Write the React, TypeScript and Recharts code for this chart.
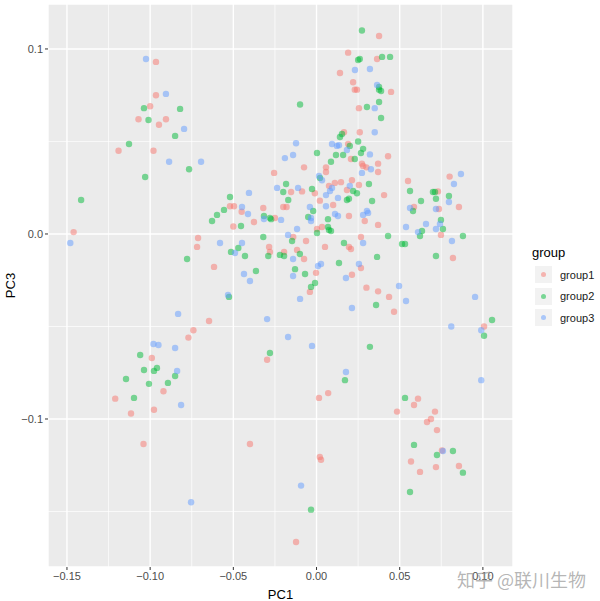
import { CartesianGrid, ReferenceLine, Scatter, ScatterChart, XAxis, YAxis } from "recharts";

// [PC1, PC3]
const group1: [number, number][] = [
  [-0.0965, 0.093], [-0.0965, 0.075], [-0.1, 0.069], [-0.107, 0.062], [-0.0947, 0.059],
  [-0.0905, 0.062], [-0.119, 0.045], [-0.098, 0.045], [-0.0255, 0.033], [-0.146, 0.001],
  [-0.052, 0.015], [-0.0496, 0.015], [-0.045, 0.012], [-0.05, 0.004], [-0.0376, 0.0065],
  [-0.032, 0.014], [-0.025, 0.0086], [-0.02, 0.0146], [-0.018, 0.0146], [-0.0153, 0.0227],
  [-0.0087, 0.023], [-0.001, 0.022], [-0.0075, 0.036], [0.0057, 0.036], [0.0057, 0.0335],
  [0.0075, 0.026], [0.011, 0.0276], [0.0147, 0.028], [0.0213, 0.029], [0.0255, 0.0265],
  [0.0183, 0.0238], [0.0165, 0.055], [0.026, 0.055], [0.019, 0.0486], [0.0207, 0.0405],
  [0.043, 0.042], [0.037, 0.038], [0.0273, 0.038], [0.028, 0.0368], [0.03, 0.036],
  [0.037, 0.0335], [0.0406, 0.021], [0.002, 0.018], [0.01, 0.0157], [0.0195, 0.0097],
  [0.029, 0.007], [0.037, 0.0049], [0.055, 0.0286], [0.0586, 0.0146], [0.0003, 0.0027],
  [0.0033, 0.0038], [-0.0712, -0.0022], [-0.0718, -0.007], [-0.0285, -0.007], [-0.028, -0.0097],
  [-0.0195, -0.0097], [-0.014, -0.0016], [-0.0063, -0.0038], [-0.0117, -0.0086], [-0.0075, -0.0135],
  [-0.0003, -0.021], [-0.0616, -0.0178], [-0.004, -0.0313], [0.0051, -0.007], [0.0195, -0.007],
  [0.0207, -0.0081], [0.0267, -0.0016], [0.0267, -0.0184], [0.0213, -0.022], [0.03, -0.029],
  [0.037, -0.031], [0.0436, -0.034], [0.0466, -0.042], [0.08, 0.031], [0.073, 0.023],
  [0.0736, 0.0135], [0.0856, 0.0146], [0.0748, -0.0005], [0.082, -0.013], [0.0376, 0.107],
  [0.019, 0.098], [0.0364, 0.0946], [0.0141, 0.087], [0.022, 0.082], [0.023, 0.078],
  [0.0243, 0.078], [0.0448, 0.0768], [0.0255, 0.068], [-0.0646, -0.047], [-0.074, -0.052],
  [-0.077, -0.056], [-0.0297, -0.068], [-0.099, -0.067], [-0.092, -0.085], [-0.121, -0.089],
  [-0.0977, -0.095], [-0.1115, -0.097], [-0.104, -0.1135], [-0.04, -0.1135], [0.0015, -0.0886],
  [0.007, -0.086], [0.002, -0.1205], [0.0027, -0.122], [-0.0123, -0.1665], [0.061, -0.089],
  [0.0586, -0.0924], [0.0484, -0.096], [0.0712, -0.096], [0.0688, -0.1], [0.0664, -0.1016],
  [0.0724, -0.106], [0.0568, -0.123], [0.0622, -0.1286], [0.0718, -0.126], [0.0856, -0.1254],
  [0.0754, -0.117], [0.1007, -0.05],
];

const group2: [number, number][] = [
  [-0.1037, 0.068], [-0.101, 0.0616], [-0.082, 0.0676], [-0.085, 0.053], [-0.1127, 0.0486],
  [-0.0766, 0.035], [-0.103, 0.0308], [-0.1415, 0.0184], [-0.052, 0.02], [-0.0556, 0.013],
  [-0.0598, 0.0103], [-0.0628, 0.007], [-0.0454, 0.0043], [-0.0316, 0.0097], [-0.028, 0.0086],
  [-0.0273, 0.008], [-0.0183, 0.027], [-0.02, 0.0227], [-0.017, 0.0184], [-0.0027, 0.0243],
  [-0.002, 0.0124], [-0.005, 0.0092], [0.0021, 0.0303], [0.0087, 0.039], [0.0003, 0.0438],
  [0.0117, 0.0427], [0.016, 0.0427], [0.023, 0.0405], [0.0153, 0.054], [0.0141, 0.0524],
  [0.025, 0.05], [0.02, 0.0476], [0.028, 0.046], [0.0267, 0.0438], [0.0388, 0.0627],
  [0.0315, 0.027], [0.022, 0.0232], [0.0243, 0.022], [0.0195, 0.019], [0.0183, 0.0184],
  [0.0334, 0.0178], [0.0069, 0.008], [0.0003, 0.0005], [0.0069, 0.0038], [0.0075, 0.0022],
  [0.0087, 0.0016], [-0.0514, -0.0097], [-0.047, -0.0076], [-0.043, -0.0119], [-0.032, -0.0016],
  [-0.029, -0.0119], [-0.022, -0.0113], [-0.0195, -0.0119], [-0.0147, -0.0038], [-0.01, -0.0108],
  [-0.0129, -0.019], [-0.0069, -0.0216], [-0.0364, -0.02], [-0.0526, -0.034], [-0.0009, -0.0265],
  [-0.0033, -0.0286], [0.0165, -0.0049], [0.0135, -0.0157], [0.0364, -0.0124], [0.0358, -0.0384],
  [0.0562, 0.0232], [0.0628, 0.0178], [0.058, 0.0124], [0.043, -0.0011], [0.0514, -0.0054],
  [0.0532, -0.0054], [0.07, 0.0227], [0.0712, 0.0227], [0.0796, 0.0205], [0.0718, 0.019],
  [0.0748, 0.0076], [0.076, 0.0027], [0.0634, 0.0016], [0.0622, -0.0011], [0.088, -0.0011],
  [0.0718, -0.0119], [0.0273, 0.11], [0.025, 0.094], [0.026, 0.0946], [0.0394, 0.0957],
  [0.0442, 0.0957], [0.0376, 0.078], [0.0388, 0.0773], [0.0376, 0.0795], [-0.0099, 0.07],
  [0.0376, 0.0713], [0.0303, 0.0686], [-0.0778, -0.0135], [-0.028, -0.0643], [-0.106, -0.0654],
  [-0.1037, -0.0735], [-0.0977, -0.074], [-0.0959, -0.0724], [-0.085, -0.0768], [-0.1145, -0.0784],
  [-0.1007, -0.081], [-0.0893, -0.0805], [-0.1097, -0.0886], [0.0171, -0.079], [-0.0033, -0.149],
  [0.0532, -0.0886], [0.0586, -0.114], [0.082, -0.1173], [0.0724, -0.1195], [0.088, -0.129],
  [0.0562, -0.1395], [0.0321, -0.061], [0.1055, -0.0465], [0.1007, -0.055],
];

const group3: [number, number][] = [
  [-0.1025, 0.0946], [-0.0905, 0.0757], [-0.0796, 0.0568], [-0.0886, 0.039], [-0.0694, 0.039],
  [-0.148, -0.0049], [-0.0406, 0.0222], [-0.0448, 0.0146], [-0.0412, 0.0108], [-0.0316, 0.0081],
  [-0.0237, 0.0249], [-0.0213, 0.0076], [-0.019, 0.041], [-0.0141, 0.0427], [-0.0123, 0.049],
  [-0.0111, 0.0249], [-0.004, 0.0146], [-0.0033, 0.0086], [-0.0033, 0.007], [0.0015, 0.0313],
  [0.0033, 0.029], [0.0093, 0.0486], [0.0123, 0.0476], [0.0135, 0.048], [0.0183, 0.0454],
  [0.0321, 0.043], [0.035, 0.055], [0.0327, 0.035], [0.0273, 0.033], [0.02, 0.026],
  [0.0093, 0.0249], [0.0081, 0.0232], [0.0057, 0.021], [0.0129, 0.0195], [0.0057, 0.015],
  [0.0111, 0.0108], [0.0129, 0.0097], [0.028, 0.0103], [0.0303, 0.0124], [0.031, 0.0114],
  [-0.0117, 0.0027], [-0.0171, -0.0005], [-0.058, -0.0049], [-0.049, -0.0103], [-0.0448, -0.0049],
  [-0.0436, -0.0216], [-0.04, -0.0254], [-0.0532, -0.033], [-0.0141, -0.0135], [-0.0141, -0.0227],
  [0.0009, -0.0173], [0.0027, -0.0162], [-0.0099, -0.0351], [0.028, -0.0049], [0.0255, -0.0162],
  [0.0177, -0.0238], [0.0213, -0.04], [0.0496, -0.0281], [0.0538, -0.0362], [0.0538, 0.0038],
  [0.0658, 0.0054], [0.0562, 0.014], [0.0868, 0.0324], [0.0826, 0.027], [0.0796, 0.0173],
  [0.0718, 0.0135], [0.0742, 0.0054], [0.0718, 0.0027], [0.0814, -0.0038], [0.061, 0.001],
  [0.0231, 0.0886], [0.0321, 0.0892], [0.0364, 0.0805], [0.035, 0.068], [-0.0832, -0.0432],
  [-0.0297, -0.046], [-0.098, -0.0595], [-0.095, -0.06], [-0.085, -0.0616], [-0.0838, -0.074],
  [-0.0814, -0.0924], [-0.0754, -0.145], [-0.0093, -0.136], [0.076, -0.1173], [0.099, -0.079],
  [0.0953, -0.034], [0.081, -0.05], [0.099, -0.052], [-0.0171, -0.0557], [-0.0027, -0.0605],
  [0.0177, -0.0746],
];

const groupNames = ["group1", "group2", "group3"];
const groupColors = ["#F8766D", "#00BA38", "#619CFF"];

const xMajor = [-0.15, -0.1, -0.05, 0, 0.05, 0.1];
const xMinor = [-0.125, -0.075, -0.025, 0.025, 0.075];
const yMajor = [-0.1, 0, 0.1];
const yMinor = [-0.15, -0.05, 0.05];

const font = '"Liberation Sans", Arial, sans-serif';

const fmt = (digits: number) => (v: number) =>
  (v < -1e-9 ? "\u2212" : "") + Math.abs(v).toFixed(digits);

const toPoints = (rows: [number, number][]) => rows.map(([x, y]) => ({ x, y }));

const Dot = (color: string) => (props: any) =>
  <circle cx={props.cx} cy={props.cy} r={3.2} fill={color} fillOpacity={0.5} />;

export default function App() {
  const series = [group1, group2, group3].map(toPoints);

  return (
    <div style={{ position: "absolute", left: 0, top: 0, width: 600, height: 601, background: "#fff", fontFamily: font }}>
      <ScatterChart width={600} height={601} margin={{ top: 4, right: 87, bottom: 0, left: 0 }}>
        <CartesianGrid fill="#EBEBEB" stroke="#fff" strokeWidth={1.4} />
        {xMinor.map((v) => (
          <ReferenceLine key={`xm${v}`} x={v} stroke="#fff" strokeWidth={0.7} />
        ))}
        {yMinor.map((v) => (
          <ReferenceLine key={`ym${v}`} y={v} stroke="#fff" strokeWidth={0.7} />
        ))}
        <XAxis
          type="number"
          dataKey="x"
          domain={[-0.1614, 0.1181]}
          ticks={xMajor}
          interval={0}
          allowDataOverflow
          axisLine={false}
          tickLine={{ stroke: "#333" }}
          tickSize={3}
          tick={{ fill: "#4D4D4D", fontSize: 11, fontFamily: font }}
          tickFormatter={fmt(2)}
          height={34}
          label={{ value: "PC1", position: "insideBottom", offset: 2, fill: "#000", fontSize: 13, fontFamily: font }}
        />
        <YAxis
          type="number"
          dataKey="y"
          domain={[-0.18, 0.1243]}
          ticks={yMajor}
          interval={0}
          allowDataOverflow
          axisLine={false}
          tickLine={{ stroke: "#333" }}
          tickSize={3}
          tick={{ fill: "#4D4D4D", fontSize: 11, fontFamily: font }}
          tickFormatter={fmt(1)}
          width={48}
          label={{
            value: "PC3",
            angle: -90,
            position: "insideLeft",
            offset: 10,
            fill: "#000",
            fontSize: 13,
            fontFamily: font,
            style: { textAnchor: "middle" },
          }}
        />
        {series.map((data, i) => (
          <Scatter
            key={groupNames[i]}
            name={groupNames[i]}
            data={data}
            fill={groupColors[i]}
            shape={Dot(groupColors[i])}
            isAnimationActive={false}
          />
        ))}
      </ScatterChart>

      <div style={{ position: "absolute", left: 532, top: 245, fontSize: 13, color: "#000" }}>group</div>
      {groupNames.map((name, i) => (
        <div key={name} style={{ position: "absolute", left: 535, top: 266 + i * 21.5, height: 17, display: "flex", alignItems: "center" }}>
          <div style={{ width: 17, height: 17, background: "#F2F2F2", position: "relative" }}>
            <div
              style={{
                position: "absolute",
                left: 6,
                top: 6,
                width: 5,
                height: 5,
                borderRadius: "50%",
                background: groupColors[i],
                opacity: 0.5,
              }}
            />
          </div>
          <span style={{ marginLeft: 8, fontSize: 11, color: "#1a1a1a" }}>{name}</span>
        </div>
      ))}

      <div
        style={{
          position: "absolute",
          left: 457,
          top: 566,
          fontSize: 18,
          color: "rgba(150,150,150,0.7)",
          fontFamily: '"Noto Sans CJK SC", sans-serif',
          whiteSpace: "nowrap",
        }}
      >
        知乎 @联川生物
      </div>
    </div>
  );
}
